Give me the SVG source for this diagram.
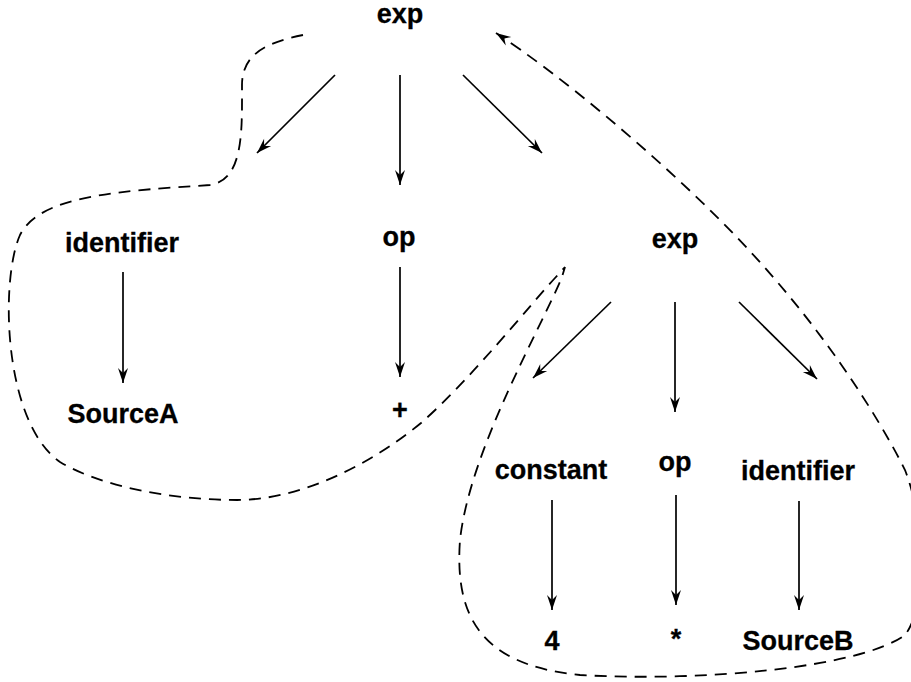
<svg xmlns="http://www.w3.org/2000/svg" width="911" height="682" viewBox="0 0 911 682">
  <style>
    .lbl { font-family: "Liberation Sans", Arial, Helvetica, sans-serif; font-weight: bold; font-size: 27px; fill: #000; stroke: #000; stroke-width: 0.3; text-anchor: middle; }
    .edge { stroke: #000; stroke-width: 1.7; fill: none; marker-end: url(#head); }
    .flow { stroke: #000; stroke-width: 1.8; fill: none; stroke-dasharray: 12 8; marker-end: url(#head); }
  </style>
  <defs>
    <marker id="head" markerUnits="userSpaceOnUse" viewBox="-16 -6 17 12" refX="0" refY="0" markerWidth="17" markerHeight="12" orient="auto">
      <path d="M0,0 L-15,-5 L-10,0 L-15,5 Z" fill="#000"/>
    </marker>
  </defs>
  <rect width="911" height="682" fill="#fff"/>

  <!-- parse tree nodes -->
  <g id="exp-root"><text class="lbl" x="400" y="23">exp</text></g>
  <g id="identifier-a"><text class="lbl" x="122" y="252">identifier</text></g>
  <g id="op-plus"><text class="lbl" x="399" y="246">op</text></g>
  <g id="exp-sub"><text class="lbl" x="675" y="248">exp</text></g>
  <g id="source-a"><text class="lbl" x="123" y="423">SourceA</text></g>
  <g id="plus"><text class="lbl" x="400" y="419">+</text></g>
  <g id="constant"><text class="lbl" x="551" y="479">constant</text></g>
  <g id="op-times"><text class="lbl" x="675" y="471">op</text></g>
  <g id="identifier-b"><text class="lbl" x="798" y="480">identifier</text></g>
  <g id="four"><text class="lbl" x="552" y="650">4</text></g>
  <g id="star"><text class="lbl" x="676" y="648">*</text></g>
  <g id="source-b"><text class="lbl" x="798" y="650">SourceB</text></g>

  <!-- tree edges and evaluation order -->
  <g id="connectors">
    <line class="edge" x1="335" y1="75" x2="257" y2="153"/>
    <line class="edge" x1="400" y1="75" x2="400" y2="185"/>
    <line class="edge" x1="463" y1="75" x2="542" y2="153"/>
    <line class="edge" x1="123" y1="272" x2="123" y2="383"/>
    <line class="edge" x1="400" y1="267" x2="400" y2="377"/>
    <line class="edge" x1="611" y1="302" x2="533" y2="378"/>
    <line class="edge" x1="675" y1="302" x2="675" y2="412"/>
    <line class="edge" x1="739" y1="302" x2="817" y2="379"/>
    <line class="edge" x1="552" y1="500" x2="552" y2="610"/>
    <line class="edge" x1="676" y1="495" x2="676" y2="605"/>
    <line class="edge" x1="799" y1="501" x2="799" y2="610"/>
    <path class="flow" d="M303,35 C270,42 242,52 242,85
      C242,130 244,180 210,185
      C120,191 40,195 20,235
      C0,280 3,422 60,462
      C100,486 170,500 237,500
      C300,500 370,465 421,423
      C470,380 530,305 555,278
      L565,267 L562,277
      C540,330 470,450 460,540
      C455,610 475,665 580,675
      C700,682 860,668 905,635
      C925,610 928,530 905,470
      C880,420 820,320 720,220
      C650,150 560,75 496,33"/>
  </g>
</svg>
